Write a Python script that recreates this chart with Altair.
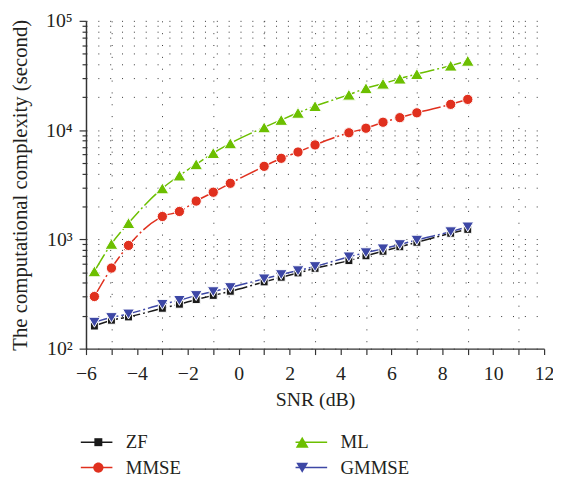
import altair as alt
import pandas as pd

# ---- data ----
snr = [-5.67, -5.0, -4.33, -3.0, -2.33, -1.67, -1.0, -0.33, 1.0, 1.67, 2.33,
       3.0, 4.33, 5.0, 5.67, 6.33, 7.0, 8.33, 9.0]
zf = [161, 182, 195, 234, 255, 281, 307, 335, 408, 450, 493, 543, 639, 707,
      778, 855, 940, 1137, 1234]
mmse = [300, 546, 880, 1620, 1800, 2240, 2700, 3260, 4660, 5520, 6300, 7320,
        9460, 10400, 11800, 13000, 14400, 17200, 19100]
ml = [510, 910, 1410, 2930, 3840, 4870, 6170, 7570, 10600, 12400, 14400,
      16600, 21100, 24200, 26600, 29600, 32600, 38900, 43100]
gmmse = [175, 193, 208, 255, 277, 307, 333, 363, 436, 477, 518, 565, 693, 757,
         821, 898, 986, 1178, 1303]

series_names = ["ZF", "MMSE", "ML", "GMMSE"]          # legend fills column-wise
draw_order = ["ZF", "MMSE", "ML", "GMMSE"]
colors = ["#1a1a1a", "#e0301e", "#6cbf00", "#3d47a5"]
marker_paths = [
    "M-0.62,-0.62H0.62V0.62H-0.62Z",                       # square
    "M0.8,0A0.8,0.8,0,1,1,-0.8,0A0.8,0.8,0,1,1,0.8,0Z",     # circle
    "M0,-0.85L1,0.85L-1,0.85Z",                             # triangle up
    "M-0.92,-0.75L0.92,-0.75L0,0.8Z",                       # triangle down
]

x_ticks = list(range(-6, 13))
y_major = [100, 1000, 10000, 100000]
y_minor = [m * d for d in (100, 1000, 10000) for m in range(2, 10)]
y_ticks = sorted(y_major + y_minor)

series_values = {"ZF": zf, "MMSE": mmse, "ML": ml, "GMMSE": gmmse}
rows = []
for name in draw_order:
    for xv, yv in zip(snr, series_values[name]):
        rows.append({"snr": xv, "t": yv, "series": name})
df = pd.DataFrame(rows)

FONT = "Liberation Serif"
TXT = "#231f20"

x_scale = alt.Scale(domain=[-6, 12], nice=False, zero=False)
y_scale = alt.Scale(type="log", domain=[100, 100000], nice=False)

major_test = " || ".join(f"datum.value == {v}" for v in y_major)

x_axis = alt.Axis(
    values=x_ticks,
    labelExpr="datum.value % 2 == 0 ? datum.label : ''",
    tickSize=6, tickColor="#333", domainColor="#333", domainWidth=1.5,
    tickWidth=1.2,
    labelFont=FONT, labelFontSize=20, labelColor=TXT, labelPadding=9,
    labelFlush=False,
    grid=True, gridDash=[1, 11], gridColor="#333", gridWidth=1,
    gridOpacity={"condition": {"test": "datum.value % 2 != 0", "value": 1}, "value": 0},
    title="SNR (dB)", titleFont=FONT, titleFontSize=20, titleFontWeight="normal",
    titleColor=TXT, titleY=58, titleBaseline="alphabetic",
)
y_axis = alt.Axis(
    values=y_ticks,
    labelExpr=("datum.value == 100 ? '10²' : datum.value == 1000 ? '10³' : "
               "datum.value == 10000 ? '10⁴' : datum.value == 100000 ? '10⁵' : ''"),
    tickSize={"condition": {"test": major_test, "value": 7}, "value": 4},
    tickColor="#333", domainColor="#333", domainWidth=1.5, tickWidth=1.2,
    labelFont=FONT, labelFontSize=20, labelColor=TXT, labelPadding=7,
    labelFlush=False,
    grid=True, gridDash=[1, 11], gridColor="#333", gridWidth=1,
    title="The computational complexity (second)", titleFont=FONT,
    titleFontSize=21, titleFontWeight="normal", titleColor=TXT,
    titleX=-60, titleBaseline="alphabetic",
)

lines = alt.Chart(df).mark_line(
    strokeWidth=1.5, strokeDash=[20, 3, 2, 3], interpolate="monotone"
).encode(
    x=alt.X("snr:Q", scale=x_scale, axis=x_axis),
    y=alt.Y("t:Q", scale=y_scale, axis=y_axis),
    color=alt.Color(
        "series:N",
        scale=alt.Scale(domain=series_names, range=colors),
        legend=alt.Legend(
            orient="none", legendX=1.25, legendY=417, columns=2,
            columnPadding=112.5, rowPadding=6, padding=0,
            symbolType="M-2,0H2", symbolSize=256, symbolStrokeWidth=1.5,
            symbolDash=[1, 0], labelFont=FONT, labelFontSize=19,
            labelOffset=20, labelColor=TXT, title=None,
        ),
    ),
)

keys = [n + "_m" for n in series_names]
marker_legend = alt.Legend(
    orient="none", legendX=3, legendY=417, columns=2,
    columnPadding=112.5, rowPadding=6, padding=0,
    symbolSize=169, symbolStrokeColor="white", symbolStrokeWidth=1,
    labelFont=FONT, labelFontSize=19, labelOffset=74.7, labelOpacity=0,
    labelExpr="' '", title=None,
)
points = alt.Chart(df).transform_calculate(
    key="datum.series + '_m'"
).mark_point(
    filled=True, size=169, stroke="white", strokeWidth=1, opacity=1
).encode(
    x=alt.X("snr:Q", scale=x_scale, axis=x_axis),
    y=alt.Y("t:Q", scale=y_scale, axis=y_axis),
    fill=alt.Fill("key:N", scale=alt.Scale(domain=keys, range=colors),
                  legend=marker_legend),
    shape=alt.Shape("key:N", scale=alt.Scale(domain=keys, range=marker_paths),
                    legend=marker_legend),
)

chart = alt.layer(lines, points).properties(
    width=464, height=332,
    autosize=alt.AutoSizeParams(type="none"),
    padding={"left": 79, "top": 10, "right": 9, "bottom": 127},
    background="white",
).configure_view(stroke=None)

chart.save("out.html", embed_options={"renderer": "svg", "actions": False})
